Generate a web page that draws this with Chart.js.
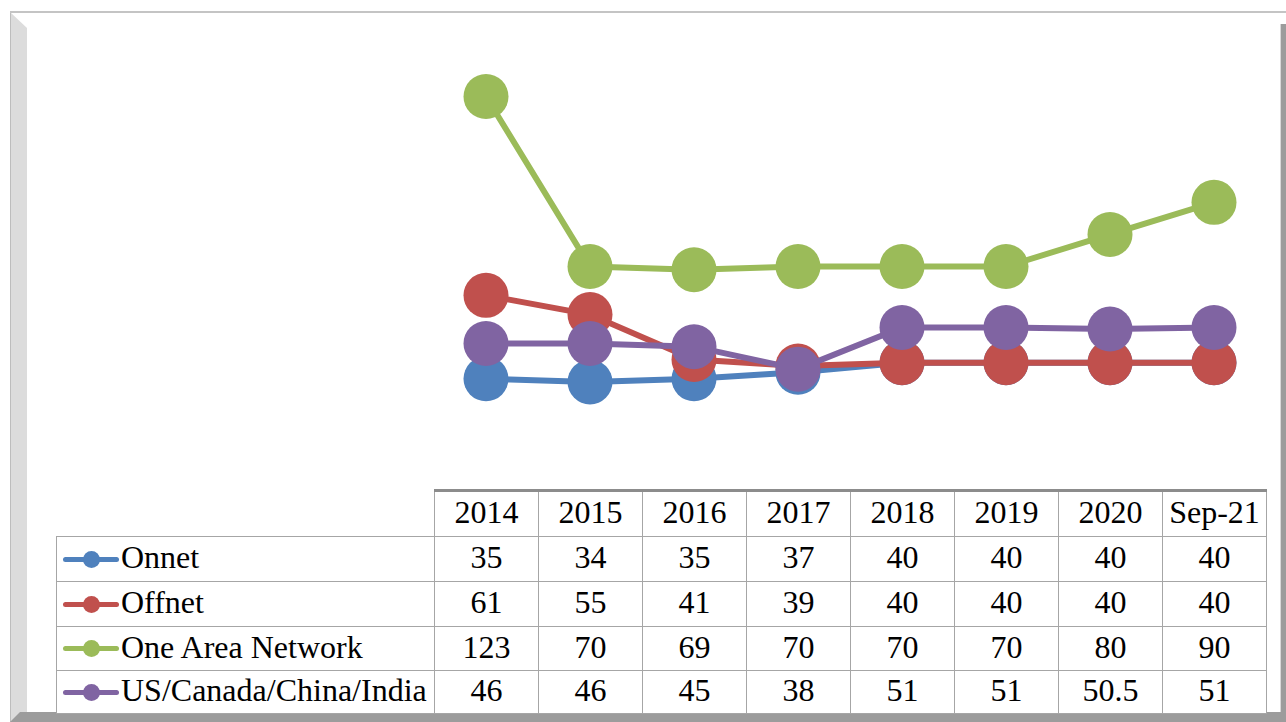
<!DOCTYPE html>
<html>
<head>
<meta charset="utf-8">
<script src="https://cdn.jsdelivr.net/npm/chart.js@4.4.0/dist/chart.umd.min.js"></script>
<style>
  body { margin: 0; background: #fff; width: 1286px; height: 722px; overflow: hidden; position: relative; }
  .frameTop { position: absolute; left: 10px; top: 11px; width: 1276px; height: 2px; background: #c4c4c4; }
  .frameLeft { position: absolute; left: 10px; top: 12px; width: 16px; height: 710px; background: #dcdcdc;
    border-left: 1px solid #bdbdbd; clip-path: polygon(0 0, 100% 16px, 100% 100%, 0 100%); }
  .frameRight { position: absolute; left: 1280px; top: 24px; width: 6px; height: 698px; background: #9c9c9c; border-left: 1px solid #d8d8d8; }
  .frameBottom { position: absolute; left: 10px; top: 712px; width: 1276px; height: 10px; background: #9c9c9c;
    clip-path: polygon(10px 0, 100% 0, 100% 100%, 0 100%); }
  #chartBox { position: absolute; left: 434px; top: 42px; width: 832px; height: 449px; }
  .cell { position: absolute; box-sizing: border-box; border: 1px solid #a6a6a6; padding-bottom: 3px;
    font-family: "Liberation Serif", "Times New Roman", serif;
    font-size: 32px; color: #000; display: flex; align-items: center; justify-content: center; background: #fff; }
  .label { justify-content: flex-start; padding-left: 6px; white-space: nowrap; }
  .key { position: relative; width: 56px; height: 20px; margin-right: 2px; flex: none; top: 1px; }
  .key .ln { position: absolute; left: 0; top: 8px; width: 56px; height: 5px; border-radius: 3px; }
  .key .dot { position: absolute; left: 20px; top: 2px; width: 17px; height: 17px; border-radius: 50%; }
  .hdrLine { position: absolute; left: 434px; top: 489px; width: 833px; height: 3px; background: #8c8c8c; }
</style>
</head>
<body>
<div class="frameTop"></div>
<div class="frameLeft"></div>
<div class="frameRight"></div>
<div class="frameBottom"></div>
<div id="chartBox"><canvas id="lines"></canvas></div>
<div id="table"></div>
<div class="hdrLine"></div>
<script>
const years = ['2014', '2015', '2016', '2017', '2018', '2019', '2020', 'Sep-21'];
const seriesNames = ['Onnet', 'Offnet', 'One Area Network', 'US/Canada/China/India'];
const onnet = [35, 34, 35, 37, 40, 40, 40, 40];
const offnet = [61, 55, 41, 39, 40, 40, 40, 40];
const oneArea = [123, 70, 69, 70, 70, 70, 80, 90];
const usCanada = [46, 46, 45, 38, 51, 51, 50.5, 51];
const colors = ['#4F81BD', '#C0504D', '#9BBB59', '#8064A2'];
const allSeries = [onnet, offnet, oneArea, usCanada];

/* Lines */
new Chart(document.getElementById('lines'), {
  type: 'line',
  data: {
    labels: years,
    datasets: allSeries.map((vals, i) => ({
      label: seriesNames[i],
      data: vals,
      borderColor: colors[i],
      backgroundColor: colors[i],
      pointBackgroundColor: colors[i],
      pointBorderWidth: 0,
      pointRadius: 22.5,
      pointHoverRadius: 22.5,
      borderWidth: 6,
      tension: 0,
      order: 3 - i,
      clip: false
    }))
  },
  options: {
    responsive: true,
    maintainAspectRatio: false,
    animation: false,
    layout: { padding: 0, autoPadding: false },
    plugins: { legend: { display: false }, tooltip: { enabled: false } },
    scales: {
      x: { display: false, offset: true },
      y: { display: false, min: 0, max: 140 }
    }
  }
});

/* Data table */
const table = document.getElementById('table');
const colLeft = 434, colW = 104, labelLeft = 56;
const rowTops = [491, 536, 581, 626, 670, 713];

function addCell(x, y, w, h, html, cls) {
  const d = document.createElement('div');
  d.className = 'cell' + (cls ? ' ' + cls : '');
  d.style.left = x + 'px';
  d.style.top = y + 'px';
  d.style.width = (w + 1) + 'px';
  d.style.height = (h + 1) + 'px';
  d.innerHTML = html;
  table.appendChild(d);
}

years.forEach((y, c) => {
  addCell(colLeft + c * colW, rowTops[0], colW, rowTops[1] - rowTops[0], y);
});

allSeries.forEach((vals, r) => {
  const top = rowTops[r + 1], h = rowTops[r + 2] - top;
  const key = '<span class="key"><span class="ln" style="background:' + colors[r] + '"></span>' +
    '<span class="dot" style="background:' + colors[r] + '"></span></span>' + seriesNames[r];
  addCell(labelLeft, top, colLeft - labelLeft, h, key, 'label');
  vals.forEach((v, c) => {
    addCell(colLeft + c * colW, top, colW, h, String(v));
  });
});
</script>
</body>
</html>
